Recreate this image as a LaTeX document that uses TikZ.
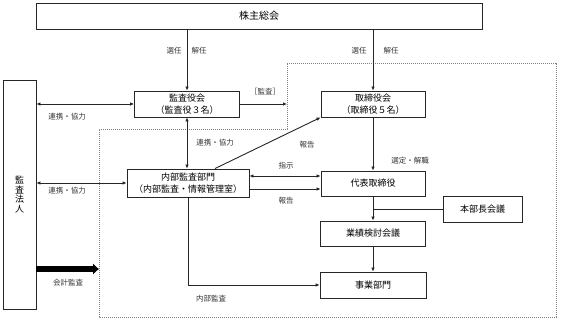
\documentclass[tikz,border=0pt]{standalone}
\usepackage{fontspec}
\setmainfont{Noto Sans CJK JP}
\usetikzlibrary{arrows.meta}

\begin{document}
\begin{tikzpicture}[x=1pt,y=-1pt,
    box/.style={draw=black!85, line width=0.9pt, inner sep=0pt, align=center,
      font=\fontsize{9}{12}\selectfont},
    conn/.style={draw=black!85, line width=0.9pt, -{Latex[length=4pt,width=3.6pt]}},
    both/.style={conn, {Latex[length=4pt,width=3.6pt]}-{Latex[length=4pt,width=3.6pt]}},
    lbl/.style={font=\fontsize{7.5}{8}\selectfont, text=black!80, inner sep=0pt}]
  \useasboundingbox (0,0) rectangle (562,323);

  % Boxes
  \node[box, minimum width=446pt, minimum height=26pt, font=\fontsize{10}{12}\selectfont] (sh) at (259,16) {株主総会};
  \node[box, minimum width=33pt, minimum height=229pt, font=\fontsize{9}{9.6}\selectfont] (hj) at (19.5,194.5) {監\\査\\法\\人};
  \node[box, minimum width=105pt, minimum height=26pt] (ky) at (187,104) {監査役会\\（監査役３名）};
  \node[box, minimum width=104pt, minimum height=26pt] (tk) at (373,104) {取締役会\\（取締役５名）};
  \node[box, minimum width=122pt, minimum height=28pt] (nb) at (188,183) {内部監査部門\\（内部監査・情報管理室）};
  \node[box, minimum width=104pt, minimum height=25pt] (dh) at (373,183.5) {代表取締役};
  \node[box, minimum width=79pt, minimum height=26pt] (hb) at (482.5,209) {本部長会議};
  \node[box, minimum width=105pt, minimum height=25pt] (gk) at (373,233.5) {業績検討会議};
  \node[box, minimum width=106pt, minimum height=26pt] (jb) at (373,285) {事業部門};

  % Dashed area
  \coordinate (dtl) at (287,63);
  \coordinate (dbl) at (99,269);
  \draw[black!50, line width=0.7pt, dash pattern=on 1.2pt off 0.8pt]
    (dtl) -- (556,63) -- (556,317) -- (99,317) -- (99,129) -- (287,129) -- cycle;

  % Connectors
  \draw[conn] (sh.south -| ky.north) -- (ky.north);
  \draw[conn] (sh.south -| tk.north) -- (tk.north);
  \draw[conn] (ky.east) -- (ky.east -| dtl);
  \draw[both] (hj.east |- ky.west) -- (ky.west);
  \draw[both] (hj.east |- nb.west) -- (nb.west);
  \draw[both] (ky.south) -- (ky.south |- nb.north);
  \draw[conn] ([xshift=27pt]nb.north) -- (tk.south west);
  \draw[both] ([yshift=7pt]nb.east) -- ([yshift=7pt]nb.east -| dh.west);
  \draw[conn] ([yshift=-6pt]nb.east) -- ([yshift=-6pt]nb.east -| dh.west);
  \draw[conn] (tk.south) -- (dh.north);
  \draw[conn] (dh.south) -- (gk.north);
  \draw[draw=black!85, line width=0.9pt] (hb.west) -- (hb.west -| dh.south);
  \draw[conn] (gk.south) -- (jb.north);
  \draw[conn] (nb.south) |- (jb.west);
  \draw[draw=black, line width=6pt, -{Latex[length=6pt,width=12pt]}] (hj.east |- dbl) -- (dbl);

  % Labels
  \foreach \x/\y/\t [count=\i] in {174/51/選任, 199/51/解任, 359/51/選任, 391/51/解任,
      265/92/［監査］, 67/117/連携・協力, 215/143/連携・協力, 67/191/連携・協力,
      307/145/報告, 286/166/指示, 286/201/報告, 410/161/選定・解職,
      68/283/会計監査, 211/299/内部監査} {
    \node[lbl] (l\i) at (\x,\y) {\t};
  }

\end{tikzpicture}
\end{document}
